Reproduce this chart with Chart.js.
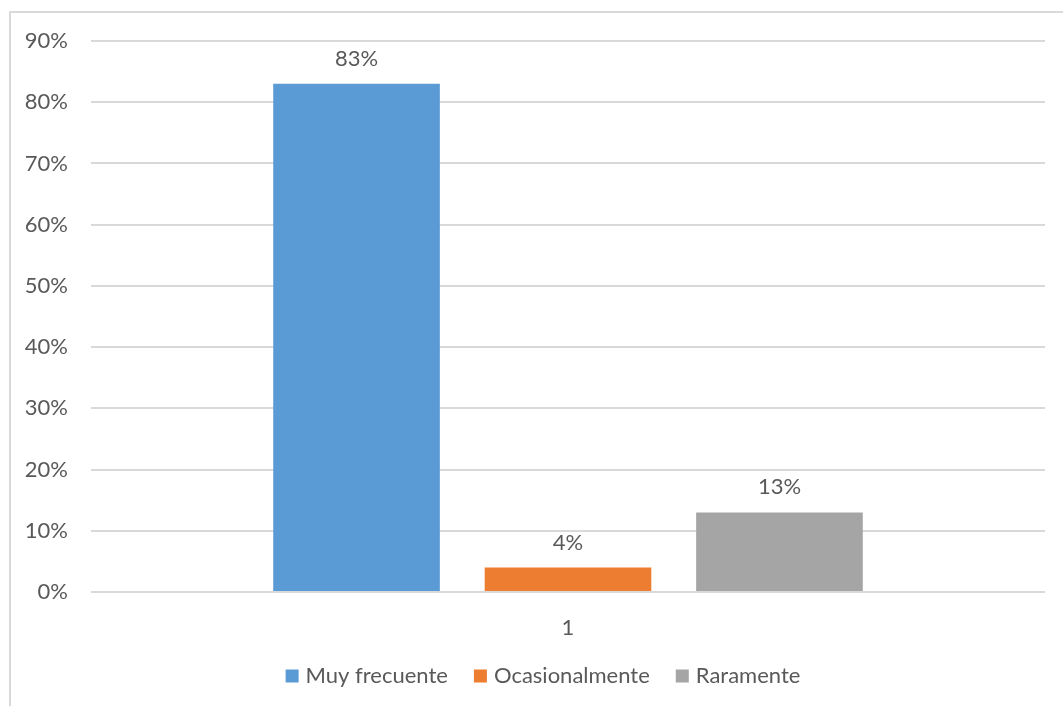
<!DOCTYPE html>
<html lang="es">
<head>
<meta charset="UTF-8">
<title>Frecuencia</title>
<script src="https://cdn.jsdelivr.net/npm/chart.js"></script>
<style>
  html, body { margin: 0; padding: 0; background: #fff; }
  #wrap { position: absolute; left: 0; top: 0; width: 1063px; height: 706px; }
</style>
</head>
<body>
<div id="wrap"><canvas id="chart"></canvas></div>
<script>
  // datos
  const categories = ['1'];
  const seriesNames = ['Muy frecuente', 'Ocasionalmente', 'Raramente'];
  const muyFrecuente = [0.83];
  const ocasionalmente = [0.04];
  const raramente = [0.13];
  const seriesColors = ['#5B9BD5', '#ED7D31', '#A5A5A5'];

  const FONT = 'Lato, "Open Sans", sans-serif';
  const TEXT = '#595959';
  const SIZE = 22;

  // marco del grafico (borde superior e izquierdo)
  const frame = {
    id: 'frame',
    beforeDraw(chart) {
      const c = chart.ctx;
      c.save();
      c.strokeStyle = '#d9d9d9';
      c.lineWidth = 2;
      c.beginPath();
      c.moveTo(10, chart.height);
      c.lineTo(10, 12);
      c.lineTo(chart.width, 12);
      c.stroke();
      c.restore();
    }
  };

  // etiquetas de valor encima de cada barra
  const valueLabels = {
    id: 'valueLabels',
    afterDatasetsDraw(chart) {
      const c = chart.ctx;
      c.save();
      c.font = SIZE + 'px ' + FONT;
      c.fillStyle = TEXT;
      c.textAlign = 'center';
      c.textBaseline = 'alphabetic';
      chart.data.datasets.forEach((ds, i) => {
        chart.getDatasetMeta(i).data.forEach((bar, j) => {
          const p = bar.getProps(['x', 'y'], true);
          c.fillText(Math.round(ds.data[j] * 100) + '%', p.x, p.y - 18);
        });
      });
      c.restore();
    }
  };

  // leyenda inferior estilo Excel
  const bottomLegend = {
    id: 'bottomLegend',
    afterDraw(chart) {
      const c = chart.ctx;
      c.save();
      c.font = SIZE + 'px ' + FONT;
      c.textBaseline = 'middle';
      const box = 13, gapText = 7, gapItem = 26;
      const items = chart.data.datasets.map(ds => ({
        label: ds.label, color: ds.backgroundColor, w: c.measureText(ds.label).width
      }));
      let total = 0;
      items.forEach((it, i) => { total += box + gapText + it.w + (i ? gapItem : 0); });
      let x = 543 - total / 2;
      const y = 676;
      items.forEach(it => {
        c.fillStyle = it.color;
        c.fillRect(x, y - box / 2, box, box);
        c.fillStyle = TEXT;
        c.fillText(it.label, x + box + gapText, y);
        x += box + gapText + it.w + gapItem;
      });
      c.restore();
    }
  };

  new Chart(document.getElementById('chart'), {
    type: 'bar',
    data: {
      labels: categories,
      datasets: [
        { label: seriesNames[0], data: muyFrecuente, backgroundColor: seriesColors[0] },
        { label: seriesNames[1], data: ocasionalmente, backgroundColor: seriesColors[1] },
        { label: seriesNames[2], data: raramente, backgroundColor: seriesColors[2] }
      ]
    },
    options: {
      responsive: true,
      maintainAspectRatio: false,
      animation: false,
      devicePixelRatio: 1,
      categoryPercentage: 0.665,
      barPercentage: 0.788,
      layout: { padding: { top: 41, right: 18, left: 0, bottom: 0 } },
      plugins: {
        legend: { display: false },
        tooltip: { enabled: false }
      },
      scales: {
        x: {
          grid: { display: false },
          border: { display: false },
          ticks: { color: TEXT, font: { family: FONT, size: SIZE }, padding: 15 },
          afterFit(scale) { scale.height = 114; }
        },
        y: {
          min: 0,
          max: 0.9,
          grid: { color: '#d9d9d9', lineWidth: 2, drawTicks: false },
          border: { display: false },
          ticks: {
            stepSize: 0.1,
            color: TEXT,
            font: { family: FONT, size: SIZE },
            padding: 23,
            callback: v => Math.round(v * 100) + '%'
          },
          afterFit(scale) { scale.width = 91; }
        }
      }
    },
    plugins: [frame, valueLabels, bottomLegend]
  });
</script>
</body>
</html>
